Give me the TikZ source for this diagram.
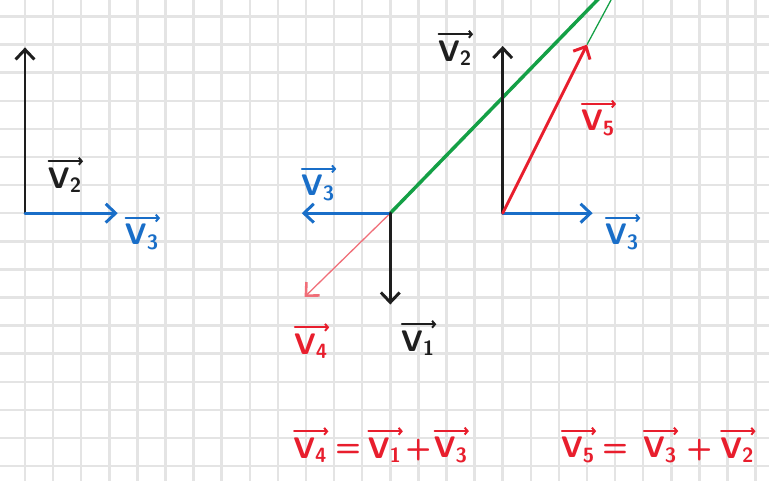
\documentclass[tikz,border=0pt]{standalone}
\usetikzlibrary{arrows.meta}
\definecolor{gridgray}{RGB}{228,228,228}
\definecolor{vred}{RGB}{232,30,45}
\definecolor{vpink}{RGB}{240,110,120}
\definecolor{vblue}{RGB}{25,110,200}
\definecolor{vgreen}{RGB}{20,160,70}
\definecolor{vblack}{RGB}{30,30,30}
\tikzset{
  vecline/.style={line width=3pt, line cap=round, -{Straight Barb[length=10pt,width=19pt]}},
  thinvec/.style={line width=1.3pt, -{Straight Barb[length=10pt,width=19pt,line width=2.6pt]}},
  lbl/.style={font=\huge\sffamily\bfseries, scale=1.45, inner sep=0pt},
  overarrow/.style={line width=2pt, line cap=round, -{Straight Barb[length=3pt,width=7pt]}},
}
% label: name, x, y, colour, subscript
\newcommand{\vlab}[5]{%
  \node[lbl, text=#4] (#1) at (#2,#3) {V\textsubscript{#5}};
  \draw[overarrow, #4] ([yshift=6pt,xshift=1pt]#1.north west) -- ([yshift=6pt,xshift=1pt]#1.north east);
}
\begin{document}
\begin{tikzpicture}[x=1cm,y=-1cm]
\useasboundingbox (-0.8897,-0.5872) rectangle (26.477,16.495);
\clip (-0.8897,-0.5872) rectangle (26.477,16.495);
\fill[white] (-0.8897,-0.5872) rectangle (26.477,16.495);
\draw[gridgray, line width=2.6pt] (-1,-1) grid (27,17);

% left group
\coordinate (oA) at (0,7);
\coordinate (aUp) at (0,1.1);
\coordinate (aRight) at (3.3,7);
\draw[vecline, vblack] (oA) -- (aUp);
\draw[vecline, vblue] (oA) -- (aRight);
\vlab{lA2}{1.42}{5.82}{vblack}{2}
\vlab{lA3}{4.16}{7.85}{vblue}{3}

% middle group
\coordinate (oB) at (13,7);
\coordinate (bLeft) at (9.85,7);
\coordinate (bDown) at (13,10.25);
\coordinate (bDiag) at (9.95,9.98);
\coordinate (bFar) at (21.8,-2.06);
\draw[line width=3.5pt, vgreen] (oB) -- (bFar);
\draw[thinvec, vpink] (oB) -- (bDiag);
\draw[vecline, vblue] (oB) -- (bLeft);
\draw[vecline, vblack] (oB) -- (bDown);
\vlab{lB2}{15.3}{1.3}{vblack}{2}
\vlab{lB3}{10.43}{6.1}{vblue}{3}
\vlab{lB1}{13.99}{11.62}{vblack}{1}
\vlab{lB4}{10.18}{11.73}{vred}{4}

% right group
\coordinate (oC) at (17,7);
\coordinate (cUp) at (17,1.05);
\coordinate (cRight) at (20.2,7);
\coordinate (cTip) at (20.0,1.0);
\coordinate (cFar) at (21.4,-1.6);
\draw[line width=1.3pt, vgreen] (cTip) -- (cFar);
\draw[vecline, vblack] (oC) -- (cUp);
\draw[vecline, vblue] (oC) -- (cRight);
\draw[vecline, vred] (oC) -- (cTip);
\vlab{lC5}{20.39}{3.79}{vred}{5}
\vlab{lC3}{21.25}{7.85}{vblue}{3}

% equations
\vlab{e1a}{10.15}{15.43}{vred}{4}
\node[lbl, text=vred] (e1eq) at (11.5,15.43) {=};
\vlab{e1b}{12.8}{15.43}{vred}{1}
\node[lbl, text=vred] (e1pl) at (14.0,15.43) {+};
\vlab{e1c}{15.15}{15.43}{vred}{3}

\vlab{e2a}{19.68}{15.43}{vred}{5}
\node[lbl, text=vred] (e2eq) at (21.0,15.43) {=};
\vlab{e2b}{22.6}{15.43}{vred}{3}
\node[lbl, text=vred] (e2pl) at (24.0,15.43) {+};
\vlab{e2c}{25.35}{15.43}{vred}{2}
\end{tikzpicture}
\end{document}
